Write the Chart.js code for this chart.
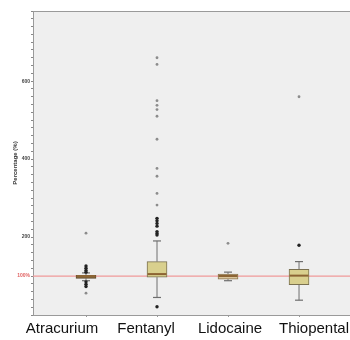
<!DOCTYPE html>
<html>
<head>
<meta charset="utf-8">
<script src="https://cdn.jsdelivr.net/npm/chart.js@4"></script>
<style>
  body { margin: 0; background: #fff; }
</style>
</head>
<body>
<canvas id="myChart" width="350" height="340"></canvas>
<script>
// data
var categories = ['Atracurium', 'Fentanyl', 'Lidocaine', 'Thiopental'];
var whiskerLow  = [88, 45, 88, 38];
var q1          = [94, 97, 92, 78];
var median      = [100, 105, 100, 101];
var q3          = [102, 137, 105, 117];
var whiskerHigh = [108, 190, 110, 137];
// circles (dark) and extremes (grey)
var outliers = [
    [126, 120, 114, 110, 85, 79, 73],
    [248, 242, 235, 228, 214, 209, 205, 21],
    [],
    [179]
];
var extremes = [
    [210, 56],
    [660, 643, 550, 538, 527, 510, 451, 376, 356, 312, 282],
    [184],
    [560]
];
var refLine = 100;
var yTickLabels = [100, 200, 400, 600];

var xMin = 0.2535, xMax = 4.718;

var boxData = [], medData = [], capData = [], stemData = [], outData = [], extData = [];
categories.forEach(function(c, i) {
    var x = i + 1;
    boxData.push({x: x, y: [q1[i], q3[i]]});
    medData.push({x: x, y: median[i]});
    capData.push({x: x, y: whiskerLow[i]});
    capData.push({x: x, y: whiskerHigh[i]});
    stemData.push({x: x, y: whiskerLow[i]}, {x: x, y: q1[i]}, {x: x, y: null});
    stemData.push({x: x, y: q3[i]}, {x: x, y: whiskerHigh[i]}, {x: x, y: null});
    outliers[i].forEach(function(v) { outData.push({x: x, y: v}); });
    extremes[i].forEach(function(v) { extData.push({x: x, y: v}); });
});

var plotBg = {
    id: 'plotBg',
    beforeDraw: function(chart) {
        var a = chart.chartArea, ctx = chart.ctx;
        ctx.save();
        ctx.fillStyle = '#efefef';
        ctx.fillRect(a.left, a.top, a.right - a.left, a.bottom - a.top);
        ctx.strokeStyle = '#9a9a9a';
        ctx.lineWidth = 1;
        ctx.beginPath();
        ctx.moveTo(a.left, a.top + 0.5);
        ctx.lineTo(a.right, a.top + 0.5);
        ctx.stroke();
        ctx.restore();
    }
};

var ctx = document.getElementById('myChart').getContext('2d');
var chart = new Chart(ctx, {
    type: 'bar',
    data: {
        datasets: [
            {
                type: 'scatter', label: 'ref', order: 9,
                data: [{x: xMin, y: refLine}, {x: xMax, y: refLine}],
                showLine: true, borderColor: '#f09a9a', borderWidth: 1.3,
                pointRadius: 0
            },
            {
                type: 'scatter', label: 'stems', order: 8,
                data: stemData, showLine: true, spanGaps: false,
                borderColor: '#6e6e6e', borderWidth: 1, pointRadius: 0
            },
            {
                type: 'bar', label: 'box', order: 5,
                data: boxData, barThickness: 20,
                backgroundColor: ['#8a6a3c', '#d9d08e', '#d9c49a', '#d9cf8e'],
                borderColor: ['#5e4a2e', '#7a7050', '#8a7550', '#7a7050'],
                borderWidth: 1, borderSkipped: false
            },
            {
                type: 'scatter', label: 'caps', order: 4,
                data: capData, pointStyle: 'line', pointRadius: 4,
                borderColor: '#6e6e6e', borderWidth: 1.2
            },
            {
                type: 'scatter', label: 'median', order: 3,
                data: medData, pointStyle: 'line', pointRadius: 9.5,
                borderColor: '#8c6434', borderWidth: 2
            },
            {
                type: 'scatter', label: 'outliers', order: 2,
                data: outData, pointRadius: 1.7,
                backgroundColor: '#222', borderWidth: 0
            },
            {
                type: 'scatter', label: 'extremes', order: 1,
                data: extData, pointRadius: 1.4,
                backgroundColor: '#8c8c8c', borderWidth: 0
            }
        ]
    },
    options: {
        responsive: false,
        animation: false,
        devicePixelRatio: 1,
        layout: { autoPadding: false, padding: { top: 11, right: 0, left: 0, bottom: 0 } },
        plugins: { legend: { display: false }, tooltip: { enabled: false } },
        scales: {
            x: {
                type: 'linear', position: 'bottom', min: xMin, max: xMax, offset: false,
                afterBuildTicks: function(s) { s.ticks = [1, 2, 3, 4].map(function(v) { return {value: v}; }); },
                afterFit: function(s) { s.height = 4; s.paddingLeft = 0; s.paddingRight = 0; },
                ticks: { display: false },
                grid: { drawOnChartArea: false, tickLength: 2, color: '#999', offset: false },
                border: { color: '#9a9a9a' }
            },
            x2: {
                type: 'linear', position: 'bottom', min: 0.655, max: 4.4286, offset: false,
                afterBuildTicks: function(s) { s.ticks = [1, 2, 3, 4].map(function(v) { return {value: v}; }); },
                afterFit: function(s) { s.height = 21; s.paddingLeft = 0; s.paddingRight = 0; },
                ticks: {
                    autoSkip: false, maxRotation: 0, padding: -7,
                    color: '#111',
                    font: { family: 'Liberation Sans', size: 15 },
                    callback: function(v) { return categories[v - 1]; }
                },
                grid: { display: false, offset: false },
                border: { display: false }
            },
            y: {
                min: 0, max: 780,
                afterFit: function(s) { s.width = 33; },
                ticks: {
                    stepSize: 20, autoSkip: false, padding: 1,
                    font: { family: 'Liberation Sans', size: 5, weight: 'bold' },
                    color: function(c) { return c.tick && c.tick.value === refLine ? '#e06060' : '#444'; },
                    callback: function(v) {
                        if (yTickLabels.indexOf(v) < 0) return '';
                        return v === refLine ? v + '%' : v;
                    }
                },
                grid: { drawOnChartArea: false, tickLength: 2, color: '#888' },
                border: { color: '#9a9a9a' },
                title: {
                    display: true, text: 'Percentage (%)', color: '#333',
                    font: { family: 'Liberation Sans', size: 6, weight: 'bold' },
                    padding: { top: 12, bottom: 0 }
                }
            }
        }
    },
    plugins: [plotBg]
});
</script>
</body>
</html>
